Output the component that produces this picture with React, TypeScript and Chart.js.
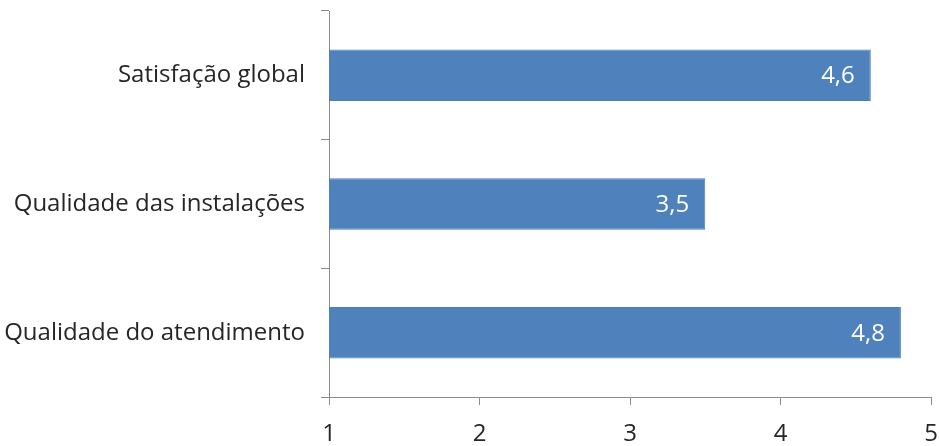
import React, { useEffect, useRef } from 'react';
import Chart from 'chart.js/auto';

const categories = ['Satisfação global', 'Qualidade das instalações', 'Qualidade do atendimento'];
const scores = [4.6, 3.5, 4.8];
const xTicks = [1, 2, 3, 4, 5];

const FONT = '"Open Sans", "Noto Sans", sans-serif';
const AXIS_COLOR = '#8c8c8c';

// writes the value (with a comma) inside the end of every bar
const barValueLabels = {
    id: 'barValueLabels',
    afterDatasetsDraw(chart: Chart) {
        const { ctx } = chart;
        const meta = chart.getDatasetMeta(0);
        ctx.save();
        ctx.font = `24px ${FONT}`;
        ctx.fillStyle = '#ffffff';
        ctx.textAlign = 'right';
        ctx.textBaseline = 'middle';
        meta.data.forEach((bar: any, i: number) => {
            const text = scores[i].toFixed(1).replace('.', ',');
            ctx.fillText(text, bar.x - 16, bar.y + 1);
        });
        ctx.restore();
    }
};

export default function App() {
    const canvasRef = useRef<HTMLCanvasElement>(null);
    const chartRef = useRef<Chart | null>(null);

    useEffect(() => {
        const ctx = canvasRef.current?.getContext('2d');
        if (!ctx) return;
        if (chartRef.current) chartRef.current.destroy();

        chartRef.current = new Chart(ctx, {
            type: 'bar',
            data: {
                labels: categories,
                datasets: [{
                    data: scores,
                    backgroundColor: '#4f81bd',
                    borderColor: '#4a7ebb',
                    borderWidth: 1,
                    barPercentage: 0.4,
                    categoryPercentage: 1
                }]
            },
            options: {
                indexAxis: 'y',
                animation: false,
                responsive: false,
                layout: { padding: { top: 11, right: 8, left: 0, bottom: 0 } },
                plugins: {
                    legend: { display: false },
                    tooltip: { enabled: false }
                },
                scales: {
                    x: {
                        min: 1,
                        max: 5,
                        afterBuildTicks: (axis: any) => {
                            axis.ticks = xTicks.map(v => ({ value: v }));
                        },
                        afterFit: (axis: any) => {
                            axis.height = 49;
                            axis.paddingLeft = 0;
                            axis.paddingRight = 0;
                        },
                        border: { display: true, color: AXIS_COLOR, width: 1 },
                        grid: {
                            drawOnChartArea: false,
                            drawTicks: true,
                            tickLength: 8,
                            color: AXIS_COLOR
                        },
                        ticks: {
                            color: '#262626',
                            font: { family: FONT, size: 24 },
                            padding: 15
                        }
                    },
                    y: {
                        afterFit: (axis: any) => {
                            axis.width = 329;
                            axis.paddingTop = 0;
                            axis.paddingBottom = 0;
                        },
                        border: { display: true, color: AXIS_COLOR, width: 1 },
                        grid: {
                            offset: true,
                            drawOnChartArea: false,
                            drawTicks: true,
                            tickLength: 8,
                            color: AXIS_COLOR
                        },
                        ticks: {
                            color: '#262626',
                            font: { family: FONT, size: 24 },
                            padding: 16
                        }
                    }
                }
            },
            plugins: [barValueLabels]
        });

        return () => {
            if (chartRef.current) {
                chartRef.current.destroy();
                chartRef.current = null;
            }
        };
    }, []);

    return (
        <div style={{ position: 'fixed', left: 0, top: 0, width: 939, height: 446, background: '#fff' }}>
            <canvas ref={canvasRef} width={939} height={446} style={{ width: 939, height: 446 }}></canvas>
        </div>
    );
}
